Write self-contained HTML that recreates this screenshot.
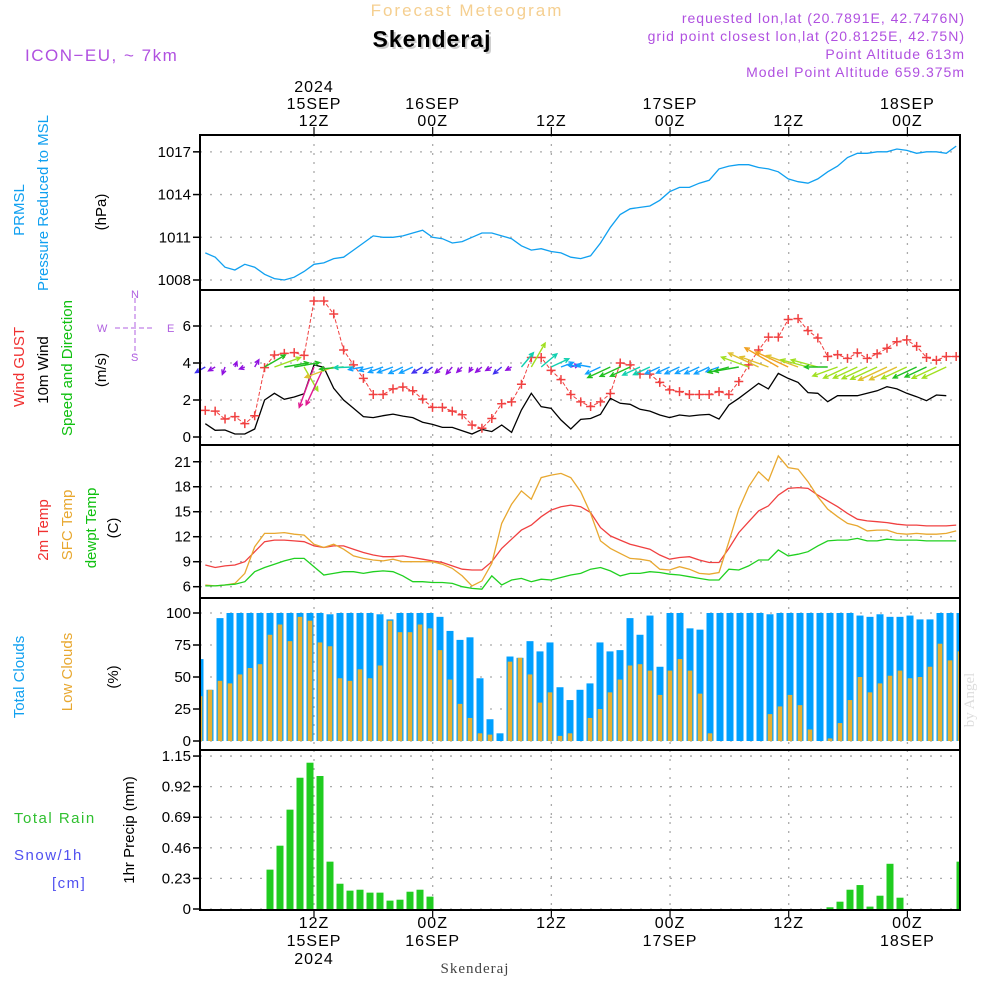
<!DOCTYPE html>
<html><head><meta charset="utf-8"><style>
html,body{margin:0;padding:0;background:#fff;}
svg{display:block;font-family:"Liberation Sans",sans-serif;}
</style></head><body>
<svg id="c" width="1000" height="1000" viewBox="0 0 1000 1000">
<g id="static">
<text x="467" y="16" text-anchor="middle" font-size="17" fill="#f5cf90" letter-spacing="2">Forecast Meteogram</text>
<text x="434" y="49" text-anchor="middle" font-size="23" font-weight="bold" fill="#ccc" letter-spacing="1">Skenderaj</text>
<text x="432" y="47" text-anchor="middle" font-size="23" font-weight="bold" fill="#000" letter-spacing="1">Skenderaj</text>
<text x="965" y="23" text-anchor="end" font-size="14" fill="#b050e0" letter-spacing="1">requested lon,lat (20.7891E, 42.7476N)</text>
<text x="965" y="41" text-anchor="end" font-size="14" fill="#b050e0" letter-spacing="1">grid point closest lon,lat (20.8125E, 42.75N)</text>
<text x="965" y="59" text-anchor="end" font-size="14" fill="#b050e0" letter-spacing="1">Point Altitude 613m</text>
<text x="965" y="77" text-anchor="end" font-size="14" fill="#b050e0" letter-spacing="1">Model Point Altitude 659.375m</text>
<text x="25" y="61" font-size="17" fill="#b050e0" letter-spacing="1.5">ICON−EU, ~ 7km</text>
<text x="974" y="700" transform="rotate(-90 974 700)" text-anchor="middle" font-family="Liberation Serif,serif" font-size="15" fill="#ddd">by Angel</text>
<text x="475" y="973" text-anchor="middle" font-family="Liberation Serif,serif" font-size="15" fill="#444" letter-spacing="1">Skenderaj</text>
</g>
<g id="ylabels" font-size="15">
<text transform="translate(24 210) rotate(-90)" text-anchor="middle" fill="#10a0f0">PRMSL</text>
<text transform="translate(48 203) rotate(-90)" text-anchor="middle" fill="#10a0f0">Pressure Reduced to MSL</text>
<text transform="translate(106 212) rotate(-90)" text-anchor="middle" fill="#000">(hPa)</text>
<text transform="translate(24 367) rotate(-90)" text-anchor="middle" fill="#f03030">Wind GUST</text>
<text transform="translate(48 370) rotate(-90)" text-anchor="middle" fill="#000">10m Wind</text>
<text transform="translate(72 368) rotate(-90)" text-anchor="middle" fill="#10c010">Speed and Direction</text>
<text transform="translate(106 370) rotate(-90)" text-anchor="middle" fill="#000">(m/s)</text>
<text transform="translate(48 530) rotate(-90)" text-anchor="middle" fill="#f03030">2m Temp</text>
<text transform="translate(72 525) rotate(-90)" text-anchor="middle" fill="#e8a830">SFC Temp</text>
<text transform="translate(96 528) rotate(-90)" text-anchor="middle" fill="#10c010">dewpt Temp</text>
<text transform="translate(118 528) rotate(-90)" text-anchor="middle" fill="#000">(C)</text>
<text transform="translate(24 677) rotate(-90)" text-anchor="middle" fill="#10a0f0">Total Clouds</text>
<text transform="translate(72 672) rotate(-90)" text-anchor="middle" fill="#e8a830">Low Clouds</text>
<text transform="translate(118 677) rotate(-90)" text-anchor="middle" fill="#000">(%)</text>
<text transform="translate(134 830) rotate(-90)" text-anchor="middle" fill="#000">1hr Precip (mm)</text>
<text x="14" y="823" fill="#30c030" letter-spacing="1.5">Total  Rain</text>
<text x="14" y="860" fill="#5050f0" letter-spacing="1.5">Snow/1h</text>
<text x="52" y="888" fill="#5050f0" letter-spacing="1.5">[cm]</text>
</g>
<g id="compass" stroke="#b060e0" fill="none" stroke-width="1">
<line x1="115" y1="328" x2="153" y2="328" stroke-dasharray="5 3"/>
<line x1="135" y1="298" x2="135" y2="355" stroke-dasharray="5 3"/>
<text x="97" y="332" font-size="11" fill="#b060e0" stroke="none">W</text>
<text x="167" y="332" font-size="11" fill="#b060e0" stroke="none">E</text>
<text x="131" y="298" font-size="11" fill="#b060e0" stroke="none">N</text>
<text x="131" y="361" font-size="11" fill="#b060e0" stroke="none">S</text>
</g>
<g id="grid"></g>
<g id="marks"></g>
<g id="frames"></g>
<g id="axes" font-size="15"></g>
</svg>
<script>
// ---- data ----
const pressure=[1009.9,1009.6,1008.9,1008.7,1009.1,1008.9,1008.4,1008.1,1008.0,1008.2,1008.6,1009.1,1009.2,1009.5,1009.6,1010.1,1010.6,1011.1,1011.0,1011.0,1011.1,1011.3,1011.5,1011.0,1010.9,1010.6,1010.7,1011.0,1011.3,1011.3,1011.1,1010.9,1010.4,1010.1,1010.2,1010.0,1009.9,1009.6,1009.5,1009.7,1010.6,1011.7,1012.6,1013.0,1013.1,1013.2,1013.6,1014.2,1014.5,1014.5,1014.8,1015.0,1015.8,1016.0,1016.1,1016.1,1015.9,1015.8,1015.6,1015.1,1014.9,1014.8,1015.1,1015.6,1016.0,1016.6,1016.9,1016.9,1017.0,1017.0,1017.2,1017.1,1016.9,1017.0,1017.0,1016.9,1017.4];
const gust=[1.44,1.4,0.97,1.1,0.72,1.15,3.75,4.43,4.52,4.56,4.41,7.35,7.35,6.65,4.7,3.9,3.17,2.3,2.3,2.6,2.7,2.5,2.05,1.6,1.6,1.4,1.2,0.65,0.47,1.0,1.8,1.9,2.85,4.3,4.3,3.6,3.1,2.3,1.9,1.65,1.9,2.35,4.0,3.9,3.4,3.4,2.95,2.55,2.45,2.3,2.3,2.3,2.45,2.3,3.0,3.9,4.7,5.4,5.4,6.35,6.4,5.75,5.35,4.35,4.45,4.25,4.55,4.25,4.5,4.8,5.15,5.25,4.9,4.3,4.15,4.35,4.35];
const wspeed=[0.72,0.36,0.38,0.16,0.16,0.43,2.0,2.36,2.04,2.16,2.34,3.9,3.77,2.63,2.0,1.55,1.1,1.05,1.15,1.24,1.13,1.05,0.8,0.68,0.52,0.52,0.34,0.16,0.41,0.29,0.65,0.25,1.46,2.36,1.64,1.55,0.92,0.43,0.95,1.0,1.22,2.09,1.82,1.77,1.5,1.4,1.19,1.05,1.19,1.13,1.19,1.22,0.97,1.73,2.09,2.49,2.9,2.6,3.44,3.17,2.95,2.4,2.36,1.91,2.23,2.23,2.23,2.36,2.5,2.72,2.6,2.36,2.18,1.96,2.27,2.23];
const wdirTo=[240,240,200,20,250,30,60,70,80,80,150,200,205,250,265,268,260,255,250,250,245,245,240,235,230,220,225,210,230,240,230,240,40,30,50,65,70,75,280,280,245,245,245,245,245,245,245,245,245,245,245,245,250,255,260,290,295,290,300,295,290,285,285,270,250,245,245,245,245,245,245,245,245,245,245,245];
const temp2m=[8.6,8.3,8.5,8.6,9.0,10.2,11.4,11.6,11.6,11.5,11.4,10.9,10.7,10.9,10.9,10.5,10.1,9.8,9.6,9.6,9.7,9.5,9.3,9.1,8.9,8.5,8.1,8.0,8.0,9.0,10.6,11.7,12.8,13.4,14.4,15.2,15.6,15.8,15.6,14.9,13.1,12.1,11.6,11.1,10.8,10.5,9.8,9.3,9.5,9.6,9.2,8.9,8.9,10.6,12.5,13.8,15.1,15.7,17.0,17.8,17.9,17.8,17.0,16.3,15.6,14.8,14.1,13.9,13.8,13.7,13.5,13.4,13.4,13.3,13.3,13.3,13.4];
const tempSfc=[6.2,6.1,6.2,6.4,7.6,10.8,12.4,12.4,12.5,12.3,12.2,11.1,10.7,11.1,10.5,9.7,9.4,9.2,9.1,9.3,9.0,9.0,9.0,9.0,8.7,8.2,7.3,6.1,6.7,8.8,13.6,15.9,17.5,16.5,19.1,19.4,19.6,19.1,17.4,14.8,11.5,10.6,10.0,9.4,9.3,9.1,8.1,8.0,8.4,8.1,7.6,7.5,7.7,11.4,15.3,18.0,19.8,18.7,21.7,20.3,20.1,18.6,16.8,15.3,14.4,13.6,13.3,12.7,12.8,12.8,12.4,12.3,12.4,12.3,12.3,12.4,12.7];
const dewpt=[6.1,6.1,6.2,6.3,6.6,7.8,8.3,8.7,9.1,9.4,9.4,8.4,7.4,7.6,7.8,7.8,7.6,7.8,7.9,7.8,7.3,6.6,6.6,6.5,6.5,6.4,6.0,5.8,5.7,7.3,6.2,6.8,7.0,6.6,6.9,6.8,7.1,7.4,7.6,8.1,8.3,7.9,7.3,7.6,7.6,7.8,7.7,7.5,7.4,7.2,7.0,6.8,6.8,8.1,8.0,8.5,9.2,9.2,10.4,9.7,9.9,10.2,10.9,11.5,11.6,11.6,11.8,11.5,11.5,11.7,11.6,11.6,11.6,11.5,11.5,11.5,11.5];
const totalClouds=[64,40,96,100,100,100,100,100,100,100,100,100,100,99,100,100,100,100,99,95,100,100,100,100,97,86,79,81,49,17,6,66,65,78,70,77,42,32,40,45,77,70,71,96,83,98,58,100,100,88,87,100,100,100,100,100,100,99,100,100,100,100,100,100,100,100,98,97,99,97,97,98,95,95,100,100,100];
const lowClouds=[35,40,47,45,52,57,60,83,91,78,97,94,77,74,49,47,56,49,59,94,85,85,91,88,71,48,29,18,6,5,0,62,65,52,30,38,4,6,0,18,25,38,48,59,60,55,36,55,64,55,37,6,0,0,0,0,0,21,27,36,28,9,0,2,14,32,50,38,45,51,55,49,50,58,76,63,70];
const precip=[0,0,0,0,0,0,0,0.296,0.476,0.747,0.987,1.1,1.0,0.356,0.19,0.138,0.145,0.123,0.123,0.063,0.07,0.13,0.145,0.093,0,0,0,0,0,0,0,0,0,0,0,0,0,0,0,0,0,0,0,0,0,0,0,0,0,0,0,0,0,0,0,0,0,0,0,0,0,0,0,0.013,0.055,0.145,0.18,0.018,0.1,0.34,0.085,0,0,0,0,0,0.356];
const pressTicks=[1008,1011,1014,1017];
const windTicks=[0,2,4,6];
const tempTicks=[6,9,12,15,18,21];
const cloudTicks=[0,25,50,75,100];
const precipTicks=[0,0.23,0.46,0.69,0.92,1.15];
const timeHours=[12,24,36,48,60,72];
const topLabels=[["2024","15SEP","12Z"],["","16SEP","00Z"],["","","12Z"],["","17SEP","00Z"],["","","12Z"],["","18SEP","00Z"]];
const botLabels=[["12Z","15SEP","2024"],["00Z","16SEP",""],["12Z","",""],["00Z","17SEP",""],["12Z","",""],["00Z","18SEP",""]];

// ---- scales ----
const L=200,R=960;
const xl=i=>195.4+9.88*i;       // line series, i = hour index
const xb=i=>190+10*i;           // bar series
const xt=h=>314+(h-12)*9.89;    // time grid
const yP=p=>280-(p-1008)*14.24;
const yW=s=>437-18.5*s;
const yT=t=>586.7-(t-6)*8.33;
const yC=c=>741-1.28*c;
const yR=r=>909-133*r;
const NS='http://www.w3.org/2000/svg';
function mk(tag,attrs,parent){const e=document.createElementNS(NS,tag);for(const k in attrs)e.setAttribute(k,attrs[k]);parent.appendChild(e);return e;}
const grid=document.getElementById('grid'),marks=document.getElementById('marks'),frames=document.getElementById('frames'),axes=document.getElementById('axes');
const panels=[{t:135,b:290,ticks:pressTicks,y:yP,fmt:v=>v},{t:290,b:445,ticks:windTicks,y:yW,fmt:v=>v},{t:445,b:598,ticks:tempTicks,y:yT,fmt:v=>v},{t:598,b:750,ticks:cloudTicks,y:yC,fmt:v=>v},{t:750,b:910,ticks:precipTicks,y:yR,fmt:v=>v===0?'0':v.toFixed(2)}];
panels.forEach((p,pi)=>{
  p.ticks.forEach(v=>{const y=p.y(v);
    const g=mk('line',{x1:L,x2:R,y1:y,y2:y,stroke:'#aaa','stroke-width':1.3,'stroke-dasharray':'2 8'},grid);
    
    
    const tk=mk('line',{x1:L-7,x2:L,y1:y,y2:y,stroke:'#000','stroke-width':1.5},axes);
    
    
    const tx=mk('text',{x:L-9,y:y+5,'text-anchor':'end',fill:'#000'},axes);tx.textContent=p.fmt(v);
    
    
  });
  timeHours.forEach(h=>{const x=xt(h);
    const g=mk('line',{x1:x,x2:x,y1:p.t,y2:p.b,stroke:'#aaa','stroke-width':1.3,'stroke-dasharray':'2 7'},grid);
    
    
  });
  const fr=mk('rect',{x:L,y:p.t,width:R-L,height:p.b-p.t,fill:'none',stroke:'#000','stroke-width':2},frames);
  
  
});
timeHours.forEach((h,k)=>{const x=xt(h);
  const t1=mk('line',{x1:x,x2:x,y1:127,y2:135,stroke:'#000','stroke-width':1.2},axes);
  
  
  const t2=mk('line',{x1:x,x2:x,y1:910,y2:917,stroke:'#000','stroke-width':1.2},axes);
  
  
  topLabels[k].forEach((s,j)=>{if(!s)return;const t=mk('text',{x:x,y:92+j*17,'text-anchor':'middle','font-size':16,'letter-spacing':1,fill:'#000'},axes);t.textContent=s;
    
    });
  botLabels[k].forEach((s,j)=>{if(!s)return;const t=mk('text',{x:x,y:928+j*18,'text-anchor':'middle','font-size':16,'letter-spacing':1,fill:'#000'},axes);t.textContent=s;
    
    });
});
function poly(arr,yf,color,name,w){const pts=arr.map((v,k)=>xl(k+1).toFixed(1)+','+yf(v).toFixed(1)).join(' ');
  const e=mk('polyline',{points:pts,fill:'none',stroke:color,'stroke-width':w||1.3},marks);
  
  return e;}
// clouds
totalClouds.forEach((v,k)=>{const x=xb(k+1);const x0=Math.max(L,x-3.5),x1=Math.min(R,x+3.5);if(x1<=x0)return;
  const r=mk('rect',{x:x0,y:yC(v),width:x1-x0,height:yC(0)-yC(v),fill:'#00a0ff'},marks);
  
  });
lowClouds.forEach((v,k)=>{const x=xb(k+1);const x0=Math.max(L,x-2.3),x1=Math.min(R,x+2.3);if(x1<=x0||v<=0)return;
  const r=mk('rect',{x:x0,y:yC(v),width:x1-x0,height:yC(0)-yC(v),fill:'#e8b030'},marks);
  
  });
// precip
precip.forEach((v,k)=>{const x=xb(k+1);const x0=Math.max(L,x-3.5),x1=Math.min(R,x+3.5);if(x1<=x0||v<=0)return;
  const r=mk('rect',{x:x0,y:yR(v),width:x1-x0,height:yR(0)-yR(v),fill:'#20cc20'},marks);
  
  });
// lines
poly(pressure,yP,'#10a0f0','pressure-line');
poly(temp2m,yT,'#f04040','temp-2m-line');
poly(tempSfc,yT,'#e8a830','sfc-temp-line');
poly(dewpt,yT,'#20d020','dewpt-line');
poly(wspeed,yW,'#000','wind-speed-line');
poly(gust,yW,'#f04040','wind-gust-line',1).setAttribute('stroke-dasharray','4 2');
gust.forEach((v,k)=>{const x=xl(k+1),y=yW(v);
  const p=mk('path',{d:`M${x-4.5},${y}H${x+4.5}M${x},${y-4.5}V${y+4.5}`,stroke:'#f04040','stroke-width':1.5},marks);
  
  });
// wind arrows
function spdColor(s){if(s<0.6)return'#9010e0';if(s<0.9)return'#4030f0';if(s<1.3)return'#10a0ff';if(s<1.7)return'#10d0b0';if(s<2.2)return'#20c020';if(s<2.6)return'#a0e020';if(s<3.0)return'#e0c030';if(s<3.6)return'#f0a020';return'#e01890';}
wdirTo.forEach((d,k)=>{const s=wspeed[k];const x=xl(k+1),y=367;const Ln=4+10*s;const a=d*Math.PI/180;
  const ex=x+Math.sin(a)*Ln,ey=y-Math.cos(a)*Ln;const ang=Math.atan2(ey-y,ex-x);
  const h1x=ex-5*Math.cos(ang-0.45),h1y=ey-5*Math.sin(ang-0.45),h2x=ex-5*Math.cos(ang+0.45),h2y=ey-5*Math.sin(ang+0.45);
  const p=mk('path',{d:`M${x},${y}L${ex},${ey}M${h1x},${h1y}L${ex},${ey}L${h2x},${h2y}`,stroke:spdColor(s),'stroke-width':1.4,fill:'none'},marks);
  
  });
</script>
</body></html>
